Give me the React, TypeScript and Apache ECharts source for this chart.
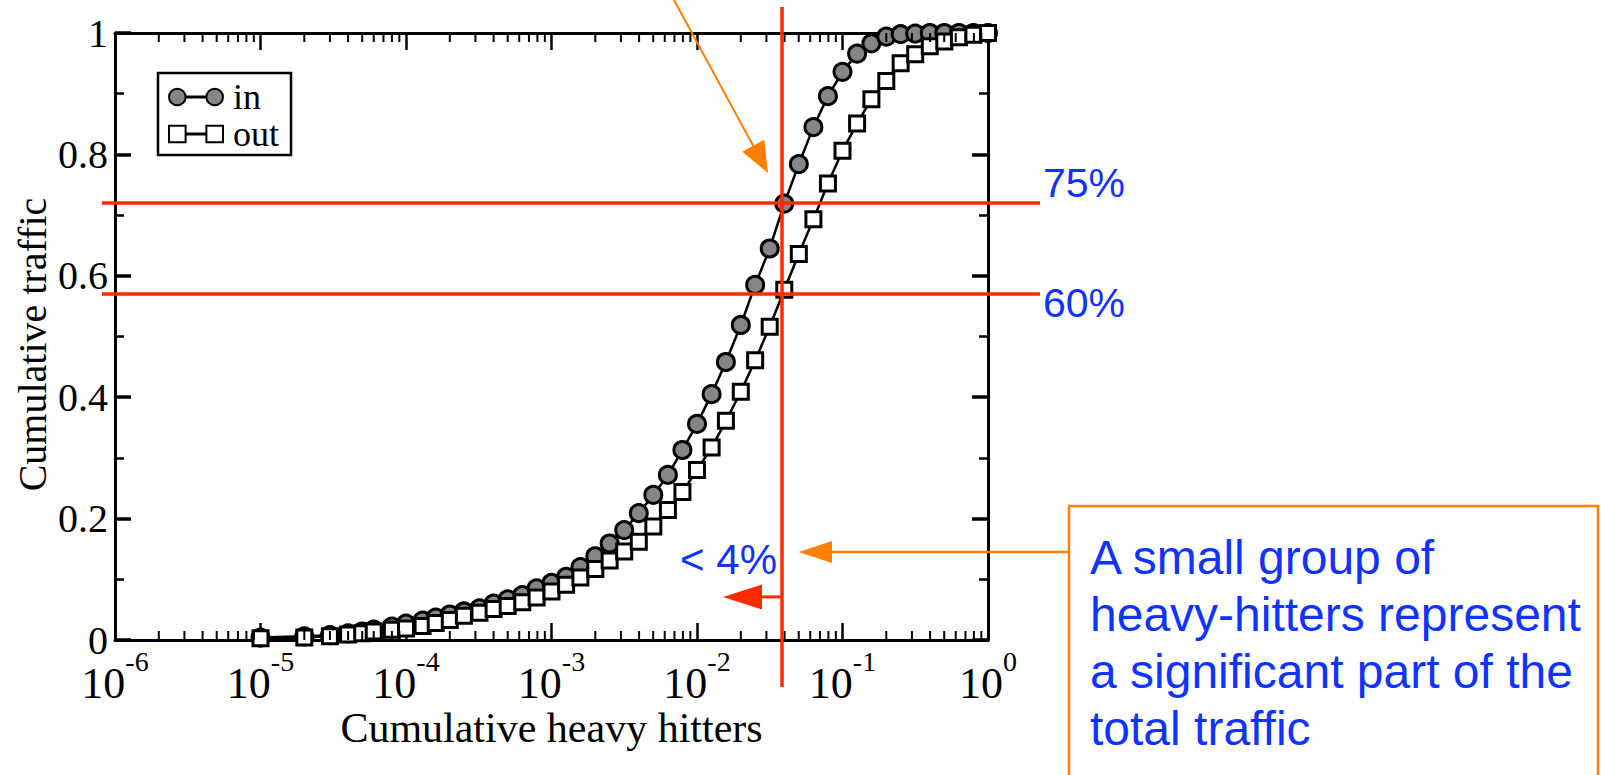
import React, { useEffect, useRef } from 'react';
import * as echarts from 'echarts';

// ---- data ----
const xFraction = [
  1e-5, 2e-5, 3e-5, 4e-5, 5e-5, 6e-5, 8e-5, 1e-4, 1.3e-4, 1.6e-4, 2e-4, 2.5e-4,
  3.2e-4, 4e-4, 5e-4, 6.3e-4, 7.9e-4, 1e-3, 1.26e-3, 1.58e-3, 2e-3, 2.51e-3, 3.16e-3, 3.98e-3,
  5.01e-3, 6.31e-3, 7.94e-3, 0.01, 0.0126, 0.0158, 0.02, 0.0251, 0.0316, 0.0398, 0.0501, 0.0631,
  0.0794, 0.1, 0.126, 0.158, 0.2, 0.251, 0.316, 0.398, 0.501, 0.631, 0.794, 1.0,
];
const inTraffic = [
  0.004, 0.006, 0.008, 0.011, 0.014, 0.017, 0.022, 0.027, 0.032, 0.037, 0.042, 0.047,
  0.052, 0.060, 0.067, 0.074, 0.085, 0.094, 0.104, 0.120, 0.138, 0.159, 0.181, 0.209,
  0.239, 0.272, 0.313, 0.356, 0.405, 0.458, 0.519, 0.585, 0.645, 0.719, 0.784, 0.845,
  0.896, 0.936, 0.966, 0.983, 0.994, 0.998, 0.999, 1.0, 1.0, 1.0, 1.0, 1.0,
];
const outTraffic = [
  0.003, 0.004, 0.006, 0.009, 0.011, 0.014, 0.017, 0.019, 0.023, 0.028, 0.033, 0.040,
  0.045, 0.051, 0.056, 0.062, 0.070, 0.080, 0.091, 0.103, 0.117, 0.131, 0.146, 0.162,
  0.187, 0.214, 0.244, 0.280, 0.317, 0.361, 0.409, 0.461, 0.516, 0.577, 0.636, 0.693,
  0.752, 0.806, 0.851, 0.891, 0.921, 0.950, 0.965, 0.978, 0.986, 0.993, 0.997, 1.0,
];
const seriesNames = ['in', 'out'];
const xMin = 1e-6;
const xMax = 1;
const yTickStep = 0.2;
const minorDecades = [1e-6, 1e-5, 1e-4, 1e-3, 1e-2, 1e-1];
const minorMultipliers = [2, 3, 4, 5, 6, 7, 8, 9];
const xTitle = 'Cumulative heavy hitters';
const yTitle = 'Cumulative traffic';
const thresholdLevels = [0.72, 0.57];
const thresholdLabels = ['75%', '60%'];
const thresholdX = 0.0384;
const thresholdXLabel = '< 4%';
const arrowLevel = 0.071;
const boxLines = [
  'A small group of',
  'heavy-hitters represent',
  'a significant part of the',
  'total traffic',
];

const SERIF = '"Liberation Serif", "DejaVu Serif", "Times New Roman", serif';
const SANS = '"Liberation Sans", Arial, "DejaVu Sans", sans-serif';
const RED = '#ff2a00';
const ORANGE = '#ff8000';
const BLUE = '#1133ff';

const CIRCLES_ICON =
  'path://M1,9a8,8 0 1,0 16,0a8,8 0 1,0 -16,0zM17,8.6h20v0.8h-20zM37,9a8,8 0 1,0 16,0a8,8 0 1,0 -16,0z';
const SQUARES_ICON = 'path://M1,1h16v16h-16zM17,8.6h20v0.8h-20zM37,1h16v16h-16z';

export default function App() {
  const ref = useRef<HTMLDivElement>(null);

  useEffect(() => {
    const chart = echarts.init(ref.current as HTMLDivElement, null, { renderer: 'svg' });

    const minorTicks: number[][] = [];
    minorDecades.forEach((d) => minorMultipliers.forEach((m) => minorTicks.push([d * m, 0])));

    const xAxisCommon = {
      type: 'log',
      logBase: 10,
      min: xMin,
      max: xMax,
      splitNumber: 6,
      gridIndex: 0,
      axisLine: { show: true, onZero: false, lineStyle: { color: '#000', width: 3 } },
      axisTick: { show: true, inside: true, length: 17, lineStyle: { color: '#000', width: 2.5 } },
      splitLine: { show: false },
      minorTick: { show: false },
      minorSplitLine: { show: false },
    };
    const yAxisCommon = {
      type: 'value',
      min: 0,
      max: 1,
      interval: yTickStep,
      gridIndex: 0,
      axisLine: { show: true, onZero: false, lineStyle: { color: '#000', width: 3 } },
      axisTick: { show: true, inside: true, length: 16, lineStyle: { color: '#000', width: 3.5 } },
      minorTick: { show: true, splitNumber: 2, length: 9, lineStyle: { color: '#000', width: 2.5 } },
      splitLine: { show: false },
      minorSplitLine: { show: false },
    };

    const option: any = {
      animation: false,
      backgroundColor: '#fff',
      grid: { left: 115, top: 33, width: 873, height: 607, containLabel: false, outerBoundsMode: 'none' },
      legend: {
        data: [
          { name: seriesNames[0], icon: CIRCLES_ICON },
          { name: seriesNames[1], icon: SQUARES_ICON },
        ],
        orient: 'vertical',
        left: 158,
        top: 73,
        padding: [6, 12, 3, 10],
        itemGap: 1,
        itemWidth: 54,
        itemHeight: 18,
        borderColor: '#000',
        borderWidth: 2.5,
        borderRadius: 0,
        selectedMode: false,
        textStyle: { fontFamily: SERIF, fontSize: 36, color: '#000', padding: [0, 0, 0, 5] },
      },
      xAxis: [
        {
          ...xAxisCommon,
          position: 'bottom',
          name: xTitle,
          nameLocation: 'middle',
          nameGap: 67,
          nameMoveOverlap: false,
          nameTextStyle: { fontFamily: SERIF, fontSize: 42, color: '#000' },
          axisLabel: {
            show: true,
            margin: 7.5,
            formatter: (v: number) => `{b|10}{s|${Math.round(Math.log10(v))}}`,
            rich: {
              b: { fontFamily: SERIF, fontSize: 44, lineHeight: 57.5, verticalAlign: 'bottom', color: '#000' },
              s: { fontFamily: SERIF, fontSize: 28, lineHeight: 28, verticalAlign: 'top', color: '#000' },
            },
          },
        },
        { ...xAxisCommon, position: 'top', axisLabel: { show: false } },
      ],
      yAxis: [
        {
          ...yAxisCommon,
          position: 'left',
          name: yTitle,
          nameLocation: 'middle',
          nameGap: 63,
          nameMoveOverlap: false,
          nameTextStyle: { fontFamily: SERIF, fontSize: 40, color: '#000', padding: [0, 16, 0, 0] },
          axisLabel: { show: true, margin: 7, fontFamily: SERIF, fontSize: 40, lineHeight: 30, color: '#000' },
        },
        { ...yAxisCommon, position: 'right', axisLabel: { show: false } },
      ],
      series: [
        {
          name: seriesNames[0],
          type: 'line',
          xAxisIndex: 0,
          yAxisIndex: 0,
          data: xFraction.map((x, i) => [x, inTraffic[i]]),
          symbol: 'circle',
          symbolSize: 17,
          showSymbol: true,
          showAllSymbol: true,
          clip: false,
          lineStyle: { color: '#000', width: 2.5 },
          itemStyle: { color: '#858585', borderColor: '#000', borderWidth: 3 },
          emphasis: { disabled: true },
          z: 3,
        },
        {
          name: seriesNames[1],
          type: 'line',
          xAxisIndex: 0,
          yAxisIndex: 0,
          data: xFraction.map((x, i) => [x, outTraffic[i]]),
          symbol: 'rect',
          symbolSize: 15,
          showSymbol: true,
          showAllSymbol: true,
          clip: false,
          lineStyle: { color: '#000', width: 2.5 },
          itemStyle: { color: '#fff', borderColor: '#000', borderWidth: 3 },
          emphasis: { disabled: true },
          z: 4,
        },
        {
          name: 'minor-ticks',
          type: 'custom',
          xAxisIndex: 0,
          yAxisIndex: 0,
          silent: true,
          clip: false,
          z: 5,
          data: minorTicks,
          renderItem: (_p: any, api: any) => {
            const v = api.value(0);
            const b = api.coord([v, 0]);
            const t = api.coord([v, 1]);
            return {
              type: 'group',
              children: [
                { type: 'line', shape: { x1: b[0], y1: b[1], x2: b[0], y2: b[1] - 9 }, style: { stroke: '#000', lineWidth: 2 } },
                { type: 'line', shape: { x1: t[0], y1: t[1], x2: t[0], y2: t[1] + 9 }, style: { stroke: '#000', lineWidth: 2 } },
              ],
            };
          },
        },
      ],
    };

    chart.setOption(option);

    const px = (x: number, y: number) =>
      chart.convertToPixel({ xAxisIndex: 0, yAxisIndex: 0 }, [x, y]) as number[];
    const [xl, yb] = px(xMin, 0);
    const [xr, yt] = px(xMax, 1);
    const x0 = px(thresholdX, 0)[0];
    const elements: any[] = [];

    thresholdLevels.forEach((lv, i) => {
      const y = px(xMin, lv)[1];
      elements.push({
        type: 'line', z: 100,
        shape: { x1: xl - 13, y1: y, x2: xr + 52, y2: y },
        style: { stroke: RED, lineWidth: 3.5 },
      });
      elements.push({
        type: 'text', z: 100, x: xr + 55, y: y + (i === 0 ? -20 : 9),
        style: { text: thresholdLabels[i], fill: BLUE, fontFamily: SANS, fontSize: 41, align: 'left', verticalAlign: 'middle' },
      });
    });

    // vertical threshold line
    elements.push({
      type: 'line', z: 100,
      shape: { x1: x0, y1: yt - 26, x2: x0, y2: yb + 47 },
      style: { stroke: RED, lineWidth: 3.5 },
    });

    // small red arrow pointing left
    const ay = px(xMin, arrowLevel)[1];
    elements.push({
      type: 'line', z: 100,
      shape: { x1: x0, y1: ay, x2: x0 - 22, y2: ay },
      style: { stroke: RED, lineWidth: 3 },
    });
    elements.push({
      type: 'polygon', z: 100,
      shape: { points: [[x0 - 59, ay], [x0 - 20, ay - 12.5], [x0 - 20, ay + 12.5]] },
      style: { fill: RED },
    });
    elements.push({
      type: 'text', z: 100, x: x0 - 5, y: ay - 37,
      style: { text: thresholdXLabel, fill: BLUE, fontFamily: SANS, fontSize: 42, align: 'right', verticalAlign: 'middle' },
    });

    // orange arrow from the top pointing at the 75% crossing
    const y75 = px(xMin, thresholdLevels[0])[1];
    const tip = [x0 - 14, y75 - 30];
    const start = [x0 - 108, 0];
    const dx = tip[0] - start[0];
    const dy = tip[1] - start[1];
    const len = Math.sqrt(dx * dx + dy * dy);
    const ux = dx / len;
    const uy = dy / len;
    const base = [tip[0] - 31 * ux, tip[1] - 31 * uy];
    elements.push({
      type: 'line', z: 100,
      shape: { x1: start[0], y1: start[1], x2: base[0], y2: base[1] },
      style: { stroke: ORANGE, lineWidth: 2 },
    });
    elements.push({
      type: 'polygon', z: 100,
      shape: {
        points: [
          tip,
          [base[0] - 12.5 * uy, base[1] + 12.5 * ux],
          [base[0] + 12.5 * uy, base[1] - 12.5 * ux],
        ],
      },
      style: { fill: ORANGE },
    });

    // call-out box with arrow
    const boxX = 1069;
    const boxY = 506;
    const boxArrowY = 552;
    elements.push({
      type: 'rect', z: 100,
      shape: { x: boxX, y: boxY, width: 529, height: 320 },
      style: { fill: 'none', stroke: ORANGE, lineWidth: 2.5 },
    });
    elements.push({
      type: 'line', z: 100,
      shape: { x1: boxX, y1: boxArrowY, x2: x0 + 48, y2: boxArrowY },
      style: { stroke: ORANGE, lineWidth: 2.5 },
    });
    elements.push({
      type: 'polygon', z: 100,
      shape: { points: [[x0 + 16.5, boxArrowY], [x0 + 50, boxArrowY - 11], [x0 + 50, boxArrowY + 11]] },
      style: { fill: ORANGE },
    });
    elements.push({
      type: 'text', z: 100, x: boxX + 21, y: boxY + 22.5,
      style: {
        text: boxLines.join('\n'), fill: BLUE, fontFamily: SANS, fontSize: 48, lineHeight: 57,
        align: 'left', verticalAlign: 'top',
      },
    });

    chart.setOption({ graphic: { elements } });

    return () => chart.dispose();
  }, []);

  return (
    <div
      ref={ref}
      style={{ position: 'fixed', left: 0, top: 0, width: 1601, height: 775, background: '#fff' }}
    />
  );
}
